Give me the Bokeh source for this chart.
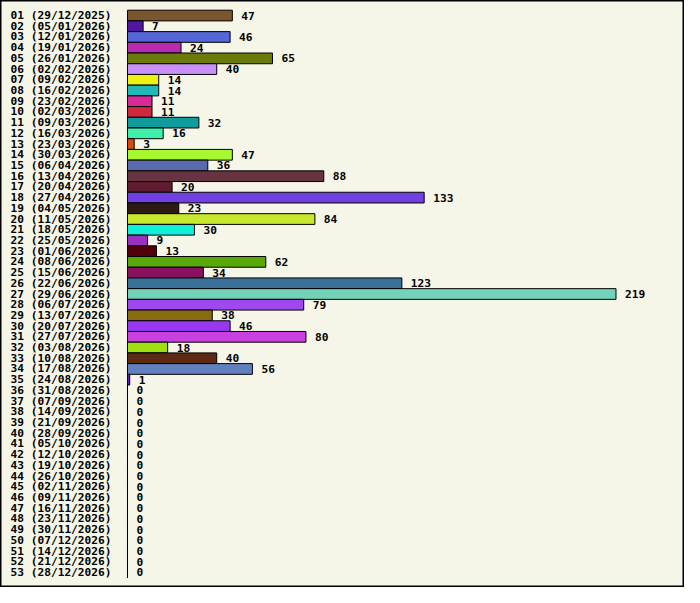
from bokeh.plotting import figure
from bokeh.models import ColumnDataSource, FactorRange, Range1d
from bokeh.core.properties import value
from bokeh.embed import file_html
from bokeh.resources import INLINE

labels = [
    "01 (29/12/2025)", "02 (05/01/2026)", "03 (12/01/2026)", "04 (19/01/2026)",
    "05 (26/01/2026)", "06 (02/02/2026)", "07 (09/02/2026)", "08 (16/02/2026)",
    "09 (23/02/2026)", "10 (02/03/2026)", "11 (09/03/2026)", "12 (16/03/2026)",
    "13 (23/03/2026)", "14 (30/03/2026)", "15 (06/04/2026)", "16 (13/04/2026)",
    "17 (20/04/2026)", "18 (27/04/2026)", "19 (04/05/2026)", "20 (11/05/2026)",
    "21 (18/05/2026)", "22 (25/05/2026)", "23 (01/06/2026)", "24 (08/06/2026)",
    "25 (15/06/2026)", "26 (22/06/2026)", "27 (29/06/2026)", "28 (06/07/2026)",
    "29 (13/07/2026)", "30 (20/07/2026)", "31 (27/07/2026)", "32 (03/08/2026)",
    "33 (10/08/2026)", "34 (17/08/2026)", "35 (24/08/2026)", "36 (31/08/2026)",
    "37 (07/09/2026)", "38 (14/09/2026)", "39 (21/09/2026)", "40 (28/09/2026)",
    "41 (05/10/2026)", "42 (12/10/2026)", "43 (19/10/2026)", "44 (26/10/2026)",
    "45 (02/11/2026)", "46 (09/11/2026)", "47 (16/11/2026)", "48 (23/11/2026)",
    "49 (30/11/2026)", "50 (07/12/2026)", "51 (14/12/2026)", "52 (21/12/2026)",
    "53 (28/12/2026)",
]

values = [
    47, 7, 46, 24, 65, 40, 14, 14, 11, 11, 32, 16, 3, 47, 36, 88, 20, 133,
    23, 84, 30, 9, 13, 62, 34, 123, 219, 79, 38, 46, 80, 18, 40, 56, 1,
    0, 0, 0, 0, 0, 0, 0, 0, 0, 0, 0, 0, 0, 0, 0, 0, 0, 0,
]

colors = [
    "#7b5530", "#5018a0", "#5566d6", "#b82ab0", "#6b7a0a", "#c890f8",
    "#eef014", "#20b8b8", "#d82a98", "#d02840", "#109c9c", "#3ef0a8",
    "#d84a10", "#a8f830", "#5a6aae", "#663340", "#601c30", "#7040e0",
    "#2c1a14", "#c8e830", "#10f0d8", "#9830c0", "#500008", "#58a808",
    "#8a1060", "#3a7098", "#74d2b8", "#a048f0", "#8a6a10", "#9838f0",
    "#c840e0", "#a0e010", "#5c2a14", "#6080c0", "#5a20c0",
    "#000000", "#000000", "#000000", "#000000", "#000000", "#000000",
    "#000000", "#000000", "#000000", "#000000", "#000000", "#000000",
    "#000000", "#000000", "#000000", "#000000", "#000000", "#000000",
]

X_START, X_END = -56.93, 249.71

src = ColumnDataSource(dict(
    label=labels,
    value=values,
    color=colors,
    text=[str(v) for v in values],
    lx=[X_START] * len(labels),
))

BG = "#f5f5e8"
FONT = value("DejaVu Sans Mono")
FSIZE = "11.2px"

p = figure(
    width=684, height=587,
    y_range=FactorRange(factors=labels[::-1], range_padding=0.905,
                        range_padding_units="absolute"),
    x_range=Range1d(X_START, X_END),
    output_backend="svg", toolbar_location=None,
    min_border=0, min_border_left=0, min_border_right=0,
    min_border_top=0, min_border_bottom=0,
)
p.xaxis.visible = False
p.yaxis.visible = False
p.xgrid.visible = False
p.ygrid.visible = False
p.background_fill_color = BG
p.border_fill_color = BG
p.outline_line_color = "black"
p.outline_line_width = 2

p.hbar(y="label", left=0, right="value", height=1.0, fill_color="color",
       line_color="black", line_width=1, source=src)

p.text(x="value", y="label", text="text", x_offset=9, text_align="left",
       text_baseline="middle", text_font=FONT, text_font_style="bold",
       text_font_size=FSIZE, text_color="black", source=src)

p.text(x="lx", y="label", text="label", x_offset=10, text_align="left",
       text_baseline="middle", text_font=FONT, text_font_style="bold",
       text_font_size=FSIZE, text_color="black", source=src)

open("out.html", "w").write(file_html(p, INLINE))
